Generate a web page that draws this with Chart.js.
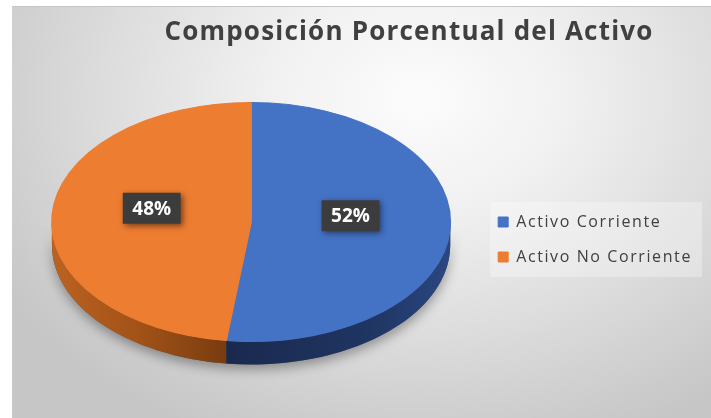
<!DOCTYPE html>
<html>
<head>
<meta charset="utf-8">
<script src="https://cdn.jsdelivr.net/npm/chart.js@4.4.0/dist/chart.umd.min.js"></script>
<style>
  html, body { margin: 0; padding: 0; background: #ffffff; }
  #wrap { position: relative; width: 711px; height: 418px; overflow: hidden; }
  #bg {
    position: absolute; left: 12px; top: 6px; right: 0; bottom: 0;
    border-top: 1px solid #c6c6c6;
    background: radial-gradient(ellipse 70% 90% at 58% 22%, #fcfcfc 0%, #f1f1f1 30%, #dcdcdc 65%, #c6c6c6 100%);
  }
  canvas { position: absolute; left: 0; top: 0; }
</style>
</head>
<body>
<div id="wrap">
  <div id="bg"></div>
  <canvas id="pieChart" width="711" height="418"></canvas>
</div>
<script>
// chart data
const chartTitle = 'Composición Porcentual del Activo';
const categories = ['Activo Corriente', 'Activo No Corriente'];
const shares = [52, 48];

// colours for the top face and the front wall of each slice
const topColors = ['#4472C4', '#ED7D31'];
const sideStops = [
    [[0, '#1a2a4f'], [0.45, '#1a2a4f'], [0.8, '#1f3562'], [1, '#2b4782']],
    [[0, '#bb6220'], [0.22, '#a25218'], [0.45, '#763b0f'], [1, '#763b0f']]
];

const squash = 0.6;   // vertical radius / horizontal radius
const depth = 23;     // thickness of the pie in px
const labelLift = 10;
const legendSpacing = '1.6px';

// fake a 3D pie: stretch the flat pie sideways and add a front wall
const pie3d = {
    id: 'pie3d',
    beforeLayout(chart) {
        // legend text in the original is spaced out a little
        chart.ctx.letterSpacing = legendSpacing;
    },
    beforeDatasetsDraw(chart) {
        const ctx = chart.ctx;
        const arcs = chart.getDatasetMeta(0).data;
        if (!arcs.length) return;
        const cx = arcs[0].x, cy = arcs[0].y;
        const sx = 1 / squash;
        ctx.save();
        ctx.translate(cx, cy);
        ctx.scale(sx, 1);
        ctx.translate(-cx, -cy);

        const r = arcs[0].outerRadius;

        // soft shadow under the whole front
        ctx.save();
        ctx.shadowColor = 'rgba(0,0,0,0.35)';
        ctx.shadowBlur = 12;
        ctx.shadowOffsetY = 5;
        ctx.beginPath();
        ctx.arc(cx, cy, r, 0, Math.PI);
        ctx.arc(cx, cy + depth, r, Math.PI, 0, true);
        ctx.closePath();
        ctx.fillStyle = '#555';
        ctx.fill();
        ctx.restore();

        arcs.forEach((arc, i) => {
            const { startAngle, endAngle, outerRadius } = arc.getProps(['startAngle', 'endAngle', 'outerRadius']);
            const grad = ctx.createLinearGradient(cx - outerRadius, 0, cx + outerRadius, 0);
            sideStops[i].forEach(s => grad.addColorStop(s[0], s[1]));
            [-2 * Math.PI, 0, 2 * Math.PI].forEach(shift => {
                const a0 = Math.max(startAngle + shift, 0);
                const a1 = Math.min(endAngle + shift, Math.PI);
                if (a1 <= a0) return;
                ctx.beginPath();
                ctx.arc(cx, cy, outerRadius, a0, a1);
                ctx.arc(cx, cy + depth, outerRadius, a1, a0, true);
                ctx.closePath();
                ctx.fillStyle = grad;
                ctx.fill();
            });
        });
    },
    afterDatasetsDraw(chart) {
        const ctx = chart.ctx;
        ctx.restore();
        const arcs = chart.getDatasetMeta(0).data;
        const total = shares.reduce((a, b) => a + b, 0);
        const sx = 1 / squash;

        // data labels in dark boxes
        ctx.save();
        ctx.letterSpacing = '0px';
        ctx.font = 'bold 19px "Open Sans"';
        ctx.textAlign = 'center';
        ctx.textBaseline = 'middle';
        arcs.forEach((arc, i) => {
            const { x, y, startAngle, endAngle, outerRadius } = arc.getProps(['x', 'y', 'startAngle', 'endAngle', 'outerRadius']);
            const mid = (startAngle + endAngle) / 2;
            const lx = x + sx * outerRadius * 0.5 * Math.cos(mid);
            const ly = y + outerRadius * 0.5 * Math.sin(mid) - labelLift;
            const text = Math.round(shares[i] / total * 100) + '%';
            const w = ctx.measureText(text).width + 19;
            const h = 31;
            ctx.save();
            ctx.shadowColor = 'rgba(0,0,0,0.5)';
            ctx.shadowBlur = 6;
            ctx.shadowOffsetX = 2;
            ctx.shadowOffsetY = 2;
            ctx.fillStyle = '#3c3c3c';
            ctx.fillRect(lx - w / 2, ly - h / 2, w, h);
            ctx.restore();
            ctx.fillStyle = '#ffffff';
            ctx.fillText(text, lx, ly + 1);
        });
        ctx.restore();
    },
    afterDraw(chart) {
        const ctx = chart.ctx;
        ctx.save();
        ctx.font = 'bold 26px "Open Sans"';
        ctx.letterSpacing = '1.2px';
        ctx.fillStyle = '#404040';
        ctx.textAlign = 'center';
        ctx.textBaseline = 'middle';
        ctx.fillText(chartTitle, 409, 33);
        ctx.restore();
    }
};

// light panel behind the legend
const legendPanel = {
    id: 'legendPanel',
    beforeDraw(chart) {
        const lg = chart.legend;
        if (!lg || !lg.legendHitBoxes || !lg.legendHitBoxes.length) return;
        const boxes = lg.legendHitBoxes;
        const top = boxes[0].top - 12;
        const bottom = boxes[boxes.length - 1].top + boxes[boxes.length - 1].height + 12;
        const left = boxes[0].left - 8;
        const ctx = chart.ctx;
        ctx.save();
        ctx.fillStyle = 'rgba(255,255,255,0.3)';
        ctx.fillRect(left, top, chart.width - 9 - left, bottom - top);
        ctx.restore();
    }
};

const ctx = document.getElementById('pieChart').getContext('2d');
const chart = new Chart(ctx, {
    type: 'pie',
    data: {
        labels: categories,
        datasets: [{
            data: shares,
            backgroundColor: topColors,
            borderColor: topColors,
            borderWidth: 1
        }]
    },
    options: {
        responsive: false,
        devicePixelRatio: 1,
        animation: false,
        layout: {
            padding: { top: 102, bottom: 76, left: 23, right: 9 }
        },
        plugins: {
            title: { display: false },
            tooltip: { enabled: false },
            legend: {
                position: 'right',
                align: 'center',
                title: {
                    display: true,
                    text: '',
                    font: { size: 12 },
                    padding: { top: 20.6, bottom: 0 }
                },
                labels: {
                    boxWidth: 10,
                    boxHeight: 10,
                    padding: 19,
                    color: '#404040',
                    font: { family: '"Open Sans"', size: 16 }
                }
            }
        }
    },
    plugins: [pie3d, legendPanel]
});
</script>
</body>
</html>
